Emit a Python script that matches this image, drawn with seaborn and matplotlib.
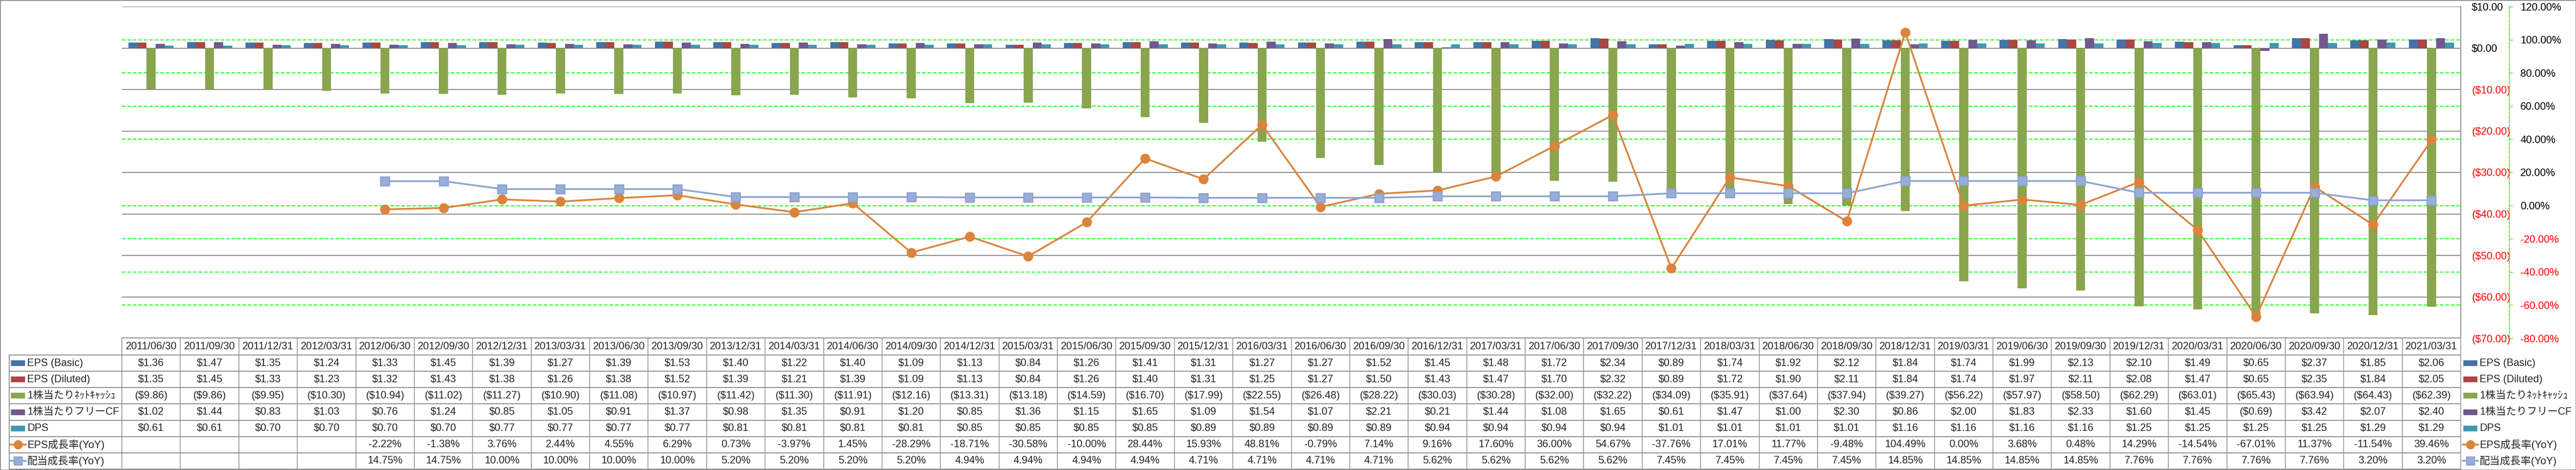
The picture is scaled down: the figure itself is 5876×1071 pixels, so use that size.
import numpy as np
import pandas as pd
import matplotlib
matplotlib.use("Agg")
import matplotlib.pyplot as plt
import seaborn as sns
from matplotlib import transforms
from matplotlib.lines import Line2D
from matplotlib.patches import Rectangle
from matplotlib.ticker import FuncFormatter

# ---------------- data ----------------
dates = ["2011/06/30", "2011/09/30", "2011/12/31", "2012/03/31", "2012/06/30", "2012/09/30",
         "2012/12/31", "2013/03/31", "2013/06/30", "2013/09/30", "2013/12/31", "2014/03/31",
         "2014/06/30", "2014/09/30", "2014/12/31", "2015/03/31", "2015/06/30", "2015/09/30",
         "2015/12/31", "2016/03/31", "2016/06/30", "2016/09/30", "2016/12/31", "2017/03/31",
         "2017/06/30", "2017/09/30", "2017/12/31", "2018/03/31", "2018/06/30", "2018/09/30",
         "2018/12/31", "2019/03/31", "2019/06/30", "2019/09/30", "2019/12/31", "2020/03/31",
         "2020/06/30", "2020/09/30", "2020/12/31", "2021/03/31"]

eps_basic = [1.36, 1.47, 1.35, 1.24, 1.33, 1.45, 1.39, 1.27, 1.39, 1.53,
             1.40, 1.22, 1.40, 1.09, 1.13, 0.84, 1.26, 1.41, 1.31, 1.27,
             1.27, 1.52, 1.45, 1.48, 1.72, 2.34, 0.89, 1.74, 1.92, 2.12,
             1.84, 1.74, 1.99, 2.13, 2.10, 1.49, 0.65, 2.37, 1.85, 2.06]
eps_diluted = [1.35, 1.45, 1.33, 1.23, 1.32, 1.43, 1.38, 1.26, 1.38, 1.52,
               1.39, 1.21, 1.39, 1.09, 1.13, 0.84, 1.26, 1.40, 1.31, 1.25,
               1.27, 1.50, 1.43, 1.47, 1.70, 2.32, 0.89, 1.72, 1.90, 2.11,
               1.84, 1.74, 1.97, 2.11, 2.08, 1.47, 0.65, 2.35, 1.84, 2.05]
net_cash = [-9.86, -9.86, -9.95, -10.30, -10.94, -11.02, -11.27, -10.90, -11.08, -10.97,
            -11.42, -11.30, -11.91, -12.16, -13.31, -13.18, -14.59, -16.70, -17.99, -22.55,
            -26.48, -28.22, -30.03, -30.28, -32.00, -32.22, -34.09, -35.91, -37.64, -37.94,
            -39.27, -56.22, -57.97, -58.50, -62.29, -63.01, -65.43, -63.94, -64.43, -62.39]
fcf = [1.02, 1.44, 0.83, 1.03, 0.76, 1.24, 0.85, 1.05, 0.91, 1.37,
       0.98, 1.35, 0.91, 1.20, 0.85, 1.36, 1.15, 1.65, 1.09, 1.54,
       1.07, 2.21, 0.21, 1.44, 1.08, 1.65, 0.61, 1.47, 1.00, 2.30,
       0.86, 2.00, 1.83, 2.33, 1.60, 1.45, -0.69, 3.42, 2.07, 2.40]
dps = [0.61, 0.61, 0.70, 0.70, 0.70, 0.70, 0.77, 0.77, 0.77, 0.77,
       0.81, 0.81, 0.81, 0.81, 0.85, 0.85, 0.85, 0.85, 0.89, 0.89,
       0.89, 0.89, 0.94, 0.94, 0.94, 0.94, 1.01, 1.01, 1.01, 1.01,
       1.16, 1.16, 1.16, 1.16, 1.25, 1.25, 1.25, 1.25, 1.29, 1.29]
nan = np.nan
eps_growth = [nan, nan, nan, nan, -2.22, -1.38, 3.76, 2.44, 4.55, 6.29,
              0.73, -3.97, 1.45, -28.29, -18.71, -30.58, -10.00, 28.44, 15.93, 48.81,
              -0.79, 7.14, 9.16, 17.60, 36.00, 54.67, -37.76, 17.01, 11.77, -9.48,
              104.49, 0.00, 3.68, 0.48, 14.29, -14.54, -67.01, 11.37, -11.54, 39.46]
div_growth = [nan, nan, nan, nan, 14.75, 14.75, 10.00, 10.00, 10.00, 10.00,
              5.20, 5.20, 5.20, 5.20, 4.94, 4.94, 4.94, 4.94, 4.71, 4.71,
              4.71, 4.71, 5.62, 5.62, 5.62, 5.62, 7.45, 7.45, 7.45, 7.45,
              14.85, 14.85, 14.85, 14.85, 7.76, 7.76, 7.76, 7.76, 3.20, 3.20]

bar_names = ["EPS (Basic)", "EPS (Diluted)", "1株当たりﾈｯﾄｷｬｯｼｭ", "1株当たりフリーCF", "DPS"]
bar_values = [eps_basic, eps_diluted, net_cash, fcf, dps]
bar_colors = ["#4572A7", "#AA4643", "#89A54E", "#71588F", "#4198AF"]
line_names = ["EPS成長率(YoY)", "配当成長率(YoY)"]
line_values = [eps_growth, div_growth]
line_colors = ["#DB843D", "#8FA6CF"]

# ---------------- figure ----------------
sns.set_theme(style="white")
plt.rcParams["font.family"] = ["Liberation Sans", "Noto Sans CJK JP"]

W, H, DPI = 5876, 1071, 100
fig = plt.figure(figsize=(W / DPI, H / DPI), dpi=DPI)
fig.patch.set_facecolor("white")

L, R, T, B = 278, 5613, 15, 771
rect = [L / W, 1 - B / H, (R - L) / W, (B - T) / H]
n = len(dates)
FS = 17
GRAY = "#878787"
GREEN = "#00FF00"
RED = "#FF0000"


def px2pt(p):
    return p * 72.0 / DPI


def fy(ypx):
    return 1 - ypx / H


def fx(xpx):
    return xpx / W


def money(v):
    if v is None or (isinstance(v, float) and np.isnan(v)):
        return ""
    if v < 0:
        return f"(${-v:.2f})"
    return f"${abs(v):.2f}"


def pct(v):
    if v is None or (isinstance(v, float) and np.isnan(v)):
        return ""
    return f"{v:.2f}%"


# percent grid (bottom layer)
ax_g = fig.add_axes(rect)
ax_g.set_xlim(-0.5, n - 0.5)
ax_g.set_ylim(-80, 120)
for p in np.arange(-80, 121, 20):
    ax_g.axhline(p, color=GREEN, lw=1.5, ls=(0, (4, 2)))
ax_g.axis("off")

# bars ($ axis)
ax = fig.add_axes(rect)
ax.patch.set_alpha(0)
long = pd.DataFrame({
    "date": np.tile(dates, len(bar_names)),
    "series": np.repeat(bar_names, n),
    "value": np.concatenate(bar_values),
})
sns.barplot(data=long, x="date", y="value", hue="series", order=dates,
            hue_order=bar_names, palette=bar_colors, width=0.772, gap=0,
            saturation=1, errorbar=None, legend=False, linewidth=0, ax=ax)
ax.set_xlim(-0.5, n - 0.5)
ax.set_ylim(-70, 10)
ax.set_yticks(np.arange(-70, 11, 10))
ax.yaxis.grid(True, color=GRAY, lw=1.5)
ax.xaxis.grid(False)
ax.set_axisbelow(True)
for s in ["left", "top", "bottom"]:
    ax.spines[s].set_visible(False)
ax.spines["right"].set_color(GRAY)
ax.spines["right"].set_linewidth(1.5)
ax.yaxis.tick_right()
ax.yaxis.set_major_formatter(FuncFormatter(lambda v, _: money(round(v, 2)) if abs(v) > 1e-9 else "$0.00"))
ax.tick_params(axis="y", length=0, pad=px2pt(25), labelsize=FS)
ax.tick_params(axis="x", bottom=False, labelbottom=False)
ax.set_xlabel("")
ax.set_ylabel("")
fig.canvas.draw()
for lab, v in zip(ax.get_yticklabels(), ax.get_yticks()):
    lab.set_color(RED if v < 0 else "black")

# lines (% axis)
ax_l = fig.add_axes(rect)
ax_l.patch.set_alpha(0)
idx = np.arange(n)
sns.lineplot(x=idx, y=eps_growth, ax=ax_l, color=line_colors[0], lw=2.9,
             marker="o", ms=15.5, mfc=line_colors[0], mec=line_colors[0],
             errorbar=None, estimator=None, legend=False, zorder=3)
sns.lineplot(x=idx, y=div_growth, ax=ax_l, color=line_colors[1], lw=2.9,
             marker="s", ms=14.5, mfc="#98AED6", mec="#8BA2CC", mew=2,
             errorbar=None, estimator=None, legend=False, zorder=3)
ax_l.set_xlim(-0.5, n - 0.5)
ax_l.set_ylim(-80, 120)
ax_l.set_yticks(np.arange(-80, 121, 20))
for s in ["left", "top", "bottom"]:
    ax_l.spines[s].set_visible(False)
ax_l.spines["right"].set_position(("outward", px2pt(111)))
ax_l.spines["right"].set_color(GREEN)
ax_l.spines["right"].set_linestyle((0, (4, 2)))
ax_l.spines["right"].set_linewidth(1.2)
ax_l.yaxis.tick_right()
ax_l.yaxis.set_major_formatter(FuncFormatter(lambda v, _: pct(v)))
ax_l.tick_params(axis="y", length=px2pt(8), width=1, color=GREEN, pad=px2pt(17), labelsize=FS, direction="out")
ax_l.tick_params(axis="x", bottom=False, labelbottom=False)
ax_l.set_xlabel("")
ax_l.set_ylabel("")
ax_l.grid(False)
fig.canvas.draw()
for lab, v in zip(ax_l.get_yticklabels(), ax_l.get_yticks()):
    lab.set_color(RED if v < 0 else "black")

# ---------------- data table ----------------
tcol = transforms.blended_transform_factory(ax.transData, fig.transFigure)
TLC = "#8C8C8C"
date_top, date_bot, tab_bot = 770, 809, 1069
row_edges = np.linspace(date_bot, tab_bot, 8)
row_centers = (row_edges[:-1] + row_edges[1:]) / 2

# horizontal lines
fig.add_artist(Line2D([fx(L), fx(R)], [fy(date_top)] * 2, transform=fig.transFigure, color=TLC, lw=1.5))
for ye in row_edges:
    fig.add_artist(Line2D([fx(21), fx(R)], [fy(ye)] * 2, transform=fig.transFigure, color=TLC, lw=1.5))
# vertical lines
for k in range(n + 1):
    fig.add_artist(Line2D([k - 0.5, k - 0.5], [fy(date_top), fy(tab_bot)], transform=tcol, color=TLC, lw=1.2))
fig.add_artist(Line2D([fx(21), fx(21)], [fy(date_bot), fy(tab_bot)], transform=fig.transFigure, color=TLC, lw=1.5))

# dates
for i, d in enumerate(dates):
    fig.text(i, fy((date_top + date_bot) / 2), d, transform=tcol, ha="center", va="center", fontsize=FS)

table_rows = [[money(v) for v in s] for s in bar_values] + [[pct(v) for v in s] for s in line_values]
for r, vals in enumerate(table_rows):
    for i, s in enumerate(vals):
        fig.text(i, fy(row_centers[r]), s, transform=tcol, ha="center", va="center", fontsize=FS)

# row headers (left) and legend (right)
all_names = bar_names + line_names


def draw_key(r, x0, x1):
    yc = row_centers[r]
    if r < len(bar_names):
        fig.add_artist(Rectangle((fx(x0), fy(yc + 6.5)), fx(x1) - fx(x0), 13 / H,
                                 transform=fig.transFigure, color=bar_colors[r], lw=0))
    else:
        c = line_colors[r - len(bar_names)]
        fig.add_artist(Line2D([fx(x0 - 2), fx(x1 + 2)], [fy(yc)] * 2, transform=fig.transFigure, color=c, lw=2.9))
        if r == len(bar_names):
            fig.add_artist(Line2D([fx((x0 + x1) / 2)], [fy(yc)], transform=fig.transFigure, marker="o",
                                  ms=14, mfc=c, mec=c, lw=0))
        else:
            fig.add_artist(Line2D([fx((x0 + x1) / 2)], [fy(yc)], transform=fig.transFigure, marker="s",
                                  ms=13, mfc="#98AED6", mec="#8BA2CC", mew=2, lw=0))


for r, name in enumerate(all_names):
    draw_key(r, 25, 57)
    fig.text(fx(62), fy(row_centers[r]), name, transform=fig.transFigure, ha="left", va="center", fontsize=FS)
    draw_key(r, 5619, 5651)
    fig.text(fx(5656), fy(row_centers[r]), name, transform=fig.transFigure, ha="left", va="center", fontsize=FS)

# outer border
fig.add_artist(Rectangle((0, 0), 1, 1, transform=fig.transFigure, fill=False, ec="#888888", lw=2))

fig.savefig("out.png", dpi=DPI, facecolor="white")
